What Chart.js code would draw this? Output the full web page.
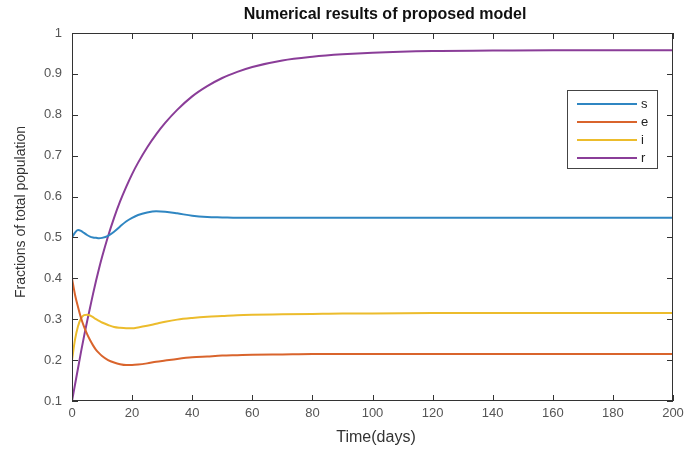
<!DOCTYPE html>
<html>
<head>
<meta charset="utf-8">
<script src="https://cdn.jsdelivr.net/npm/chart.js@4.4.1/dist/chart.umd.min.js"></script>
<style>
  html, body { margin: 0; padding: 0; background: #fff; }
  #wrap { width: 689px; height: 450px; }
</style>
</head>
<body>
<div id="wrap"><canvas id="model"></canvas></div>
<script>
// time grid (days) and the four compartments
const days = [0, 1, 2, 3, 4, 5, 6, 7, 8, 9, 10, 12, 14, 16, 18, 20, 22, 25, 28, 31, 35, 40, 45, 50, 55, 60, 70, 80, 90, 100, 120, 140, 160, 180, 200];
const sVals = [0.500, 0.512, 0.518, 0.516, 0.511, 0.506, 0.502, 0.500, 0.499, 0.498, 0.499, 0.504, 0.514, 0.527, 0.539, 0.548, 0.555, 0.561, 0.564, 0.563, 0.559, 0.553, 0.550, 0.549, 0.548, 0.548, 0.548, 0.548, 0.548, 0.548, 0.548, 0.548, 0.548, 0.548, 0.548];
const eVals = [0.400, 0.360, 0.330, 0.303, 0.282, 0.264, 0.249, 0.236, 0.225, 0.217, 0.210, 0.200, 0.194, 0.190, 0.188, 0.188, 0.189, 0.192, 0.196, 0.199, 0.203, 0.207, 0.209, 0.211, 0.212, 0.213, 0.214, 0.215, 0.215, 0.215, 0.215, 0.215, 0.215, 0.215, 0.215];
const iVals = [0.200, 0.250, 0.283, 0.302, 0.310, 0.311, 0.309, 0.305, 0.300, 0.296, 0.292, 0.286, 0.281, 0.279, 0.278, 0.278, 0.280, 0.284, 0.289, 0.294, 0.299, 0.303, 0.306, 0.308, 0.310, 0.311, 0.312, 0.313, 0.314, 0.314, 0.315, 0.315, 0.315, 0.315, 0.315];
const rVals = [0.100, 0.140, 0.180, 0.220, 0.258, 0.294, 0.328, 0.362, 0.394, 0.424, 0.452, 0.503, 0.548, 0.588, 0.623, 0.655, 0.683, 0.720, 0.752, 0.780, 0.812, 0.845, 0.870, 0.890, 0.905, 0.917, 0.933, 0.942, 0.948, 0.952, 0.956, 0.957, 0.958, 0.958, 0.958];

const seriesNames = ['s', 'e', 'i', 'r'];
const seriesColors = ['#2f86c2', '#d9642c', '#ecbc2c', '#8a3d98'];
const xTicks = [0, 20, 40, 60, 80, 100, 120, 140, 160, 180, 200];
const yTicks = [0.1, 0.2, 0.3, 0.4, 0.5, 0.6, 0.7, 0.8, 0.9, 1];

const allVals = [sVals, eVals, iVals, rVals];
const datasets = allVals.map((vals, k) => ({
  label: seriesNames[k],
  data: days.map((d, j) => ({ x: d, y: vals[j] })),
  borderColor: seriesColors[k],
  borderWidth: 2,
  pointRadius: 0,
  cubicInterpolationMode: 'monotone',
  fill: false
}));

const FONT = '"Liberation Sans", Arial, sans-serif';

// box around the plot, inward ticks, title, axis names and the legend
const frame = {
  id: 'frame',
  afterDraw(chart) {
    const { ctx, chartArea: a, scales } = chart;
    ctx.save();
    ctx.strokeStyle = '#333';
    ctx.lineWidth = 1;
    ctx.strokeRect(a.left + 0.5, a.top + 0.5, a.right - a.left - 1, a.bottom - a.top - 1);

    ctx.beginPath();
    xTicks.forEach(t => {
      const px = Math.round(scales.x.getPixelForValue(t)) + 0.5;
      ctx.moveTo(px, a.bottom); ctx.lineTo(px, a.bottom - 6);
      ctx.moveTo(px, a.top); ctx.lineTo(px, a.top + 6);
    });
    yTicks.forEach(t => {
      const py = Math.round(scales.y.getPixelForValue(t)) + 0.5;
      ctx.moveTo(a.left, py); ctx.lineTo(a.left + 6, py);
      ctx.moveTo(a.right, py); ctx.lineTo(a.right - 6, py);
    });
    ctx.stroke();

    ctx.fillStyle = '#111';
    ctx.textAlign = 'center';
    ctx.textBaseline = 'middle';
    ctx.font = 'bold 16px ' + FONT;
    ctx.fillText('Numerical results of proposed model', 385, 15);

    ctx.fillStyle = '#333';
    ctx.font = '16px ' + FONT;
    ctx.fillText('Time(days)', 376, 438);

    ctx.save();
    ctx.translate(21, 212);
    ctx.rotate(-Math.PI / 2);
    ctx.font = '14px ' + FONT;
    ctx.fillText('Fractions of total population', 0, 0);
    ctx.restore();

    // legend box
    const lx = 567, ly = 90, lw = 90, lh = 78;
    ctx.fillStyle = '#fff';
    ctx.fillRect(lx, ly, lw, lh);
    ctx.strokeStyle = '#444';
    ctx.strokeRect(lx + 0.5, ly + 0.5, lw, lh);
    ctx.font = '13px ' + FONT;
    ctx.textAlign = 'left';
    chart.data.datasets.forEach((ds, k) => {
      const yy = ly + 14 + k * 18;
      ctx.strokeStyle = ds.borderColor;
      ctx.lineWidth = 2;
      ctx.beginPath();
      ctx.moveTo(lx + 10, yy); ctx.lineTo(lx + 70, yy);
      ctx.stroke();
      ctx.fillStyle = '#222';
      ctx.fillText(ds.label, lx + 74, yy);
    });
    ctx.restore();
  }
};

new Chart(document.getElementById('model'), {
  type: 'line',
  data: { datasets },
  options: {
    responsive: true,
    maintainAspectRatio: false,
    animation: false,
    layout: { padding: { top: 33, right: 16, left: 0, bottom: 0 } },
    plugins: { legend: { display: false }, tooltip: { enabled: false } },
    scales: {
      x: {
        type: 'linear',
        min: 0,
        max: 200,
        afterBuildTicks: s => { s.ticks = xTicks.map(v => ({ value: v })); },
        afterFit: s => { s.height = 49; },
        grid: { drawOnChartArea: false, drawTicks: false },
        border: { display: false },
        ticks: { color: '#555', font: { family: FONT, size: 13 }, padding: 5, maxRotation: 0 }
      },
      y: {
        min: 0.1,
        max: 1,
        afterBuildTicks: s => { s.ticks = yTicks.map(v => ({ value: v })); },
        afterFit: s => { s.width = 72; },
        grid: { drawOnChartArea: false, drawTicks: false },
        border: { display: false },
        ticks: {
          color: '#555',
          font: { family: FONT, size: 13 },
          padding: 10,
          callback: v => String(Math.round(v * 10) / 10)
        }
      }
    }
  },
  plugins: [frame]
});
</script>
</body>
</html>
